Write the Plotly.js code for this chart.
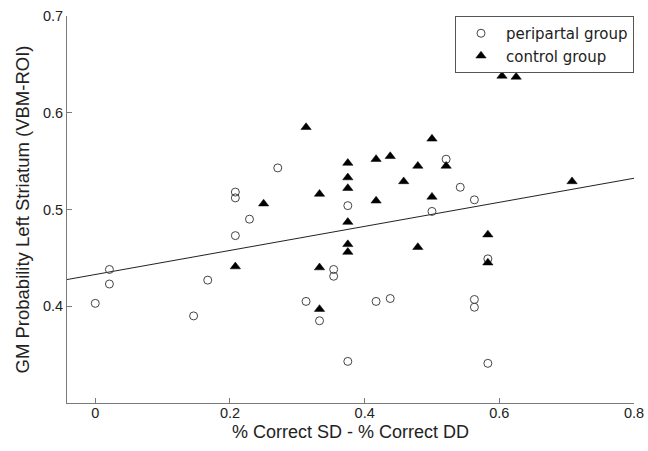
<!DOCTYPE html>
<html>
<head>
<meta charset="utf-8">
<script src="https://cdn.plot.ly/plotly-3.0.1.min.js"></script>
<style>
  html, body { margin: 0; padding: 0; background: #fff; }
  #chart { width: 648px; height: 451px; }
</style>
</head>
<body>
<div id="chart"></div>
<script>
// Peripartal group (open circles)
const periX = [0.000, 0.021, 0.021, 0.146, 0.167, 0.208, 0.208, 0.208, 0.229, 0.271,
               0.313, 0.333, 0.354, 0.354, 0.375, 0.375, 0.417, 0.438, 0.500, 0.521,
               0.542, 0.563, 0.563, 0.563, 0.583, 0.583];
const periY = [0.403, 0.438, 0.423, 0.390, 0.427, 0.518, 0.512, 0.473, 0.490, 0.543,
               0.405, 0.385, 0.438, 0.431, 0.504, 0.343, 0.405, 0.408, 0.498, 0.552,
               0.523, 0.510, 0.407, 0.399, 0.449, 0.341];

// Control group (filled triangles)
const ctrlX = [0.208, 0.250, 0.313, 0.333, 0.333, 0.333, 0.375, 0.375, 0.375, 0.375,
               0.375, 0.375, 0.417, 0.417, 0.438, 0.458, 0.479, 0.479, 0.500, 0.500,
               0.521, 0.583, 0.583, 0.604, 0.625, 0.708];
const ctrlY = [0.441, 0.506, 0.585, 0.516, 0.440, 0.397, 0.548, 0.533, 0.522, 0.487,
               0.464, 0.456, 0.552, 0.509, 0.555, 0.529, 0.545, 0.461, 0.573, 0.513,
               0.545, 0.474, 0.445, 0.638, 0.637, 0.529];

// Regression line end points
const fitX = [-0.042, 0.8];
const fitY = [0.4276, 0.5323];

// Tick labels
const xTicks = [0, 0.2, 0.4, 0.6, 0.8];
const xTickText = ['0', '0.2', '0.4', '0.6', '0.8'];
const yTicks = [0.4, 0.5, 0.6, 0.7];
const yTickText = ['0.4', '0.5', '0.6', '0.7'];

const FONT = 'Liberation Sans, Arial, sans-serif';
const LEGEND_FONT = 'DejaVu Sans, Liberation Sans, sans-serif';

const traces = [
  {
    x: fitX, y: fitY, type: 'scatter', mode: 'lines',
    line: { color: '#222', width: 1 },
    showlegend: false, hoverinfo: 'skip'
  },
  {
    x: periX, y: periY, type: 'scatter', mode: 'markers',
    name: 'peripartal group',
    marker: { symbol: 'circle-open', size: 8, color: '#444', line: { width: 1, color: '#444' } }
  },
  {
    x: ctrlX, y: ctrlY, type: 'scatter', mode: 'markers',
    name: 'control group',
    marker: { symbol: 'triangle-up', size: 9, color: '#000', line: { width: 0.5, color: '#000' } }
  }
];

const axisCommon = {
  showgrid: false, zeroline: false, showline: true,
  linecolor: '#7a7a7a', linewidth: 1,
  ticks: 'inside', ticklen: 5, tickcolor: '#7a7a7a', tickwidth: 1,
  tickfont: { family: FONT, size: 14.5, color: '#222' },
  mirror: false
};

const layout = {
  width: 648, height: 451,
  margin: { l: 67, r: 14, t: 16, b: 48 },
  paper_bgcolor: '#fff', plot_bgcolor: '#fff',
  font: { family: FONT, size: 14, color: '#222' },
  xaxis: Object.assign({}, axisCommon, {
    range: [-0.042, 0.8],
    tickvals: xTicks, ticktext: xTickText,
    ticklabelstandoff: -3,
    title: { text: '% Correct SD - % Correct DD', font: { family: FONT, size: 18, color: '#222' }, standoff: 4 }
  }),
  yaxis: Object.assign({}, axisCommon, {
    range: [0.3, 0.7],
    tickvals: yTicks, ticktext: yTickText,
    title: { text: 'GM Probability Left Striatum (VBM-ROI)', font: { family: FONT, size: 18.5, color: '#222' }, standoff: 8 }
  }),
  legend: {
    x: 1, y: 1, xanchor: 'right', yanchor: 'top',
    bgcolor: '#fff', bordercolor: '#555', borderwidth: 1,
    font: { family: LEGEND_FONT, size: 15, color: '#222' },
    itemwidth: 40,
    tracegroupgap: 0
  },
  showlegend: true
};

Plotly.newPlot('chart', traces, layout, { displayModeBar: false, staticPlot: true });
</script>
</body>
</html>
